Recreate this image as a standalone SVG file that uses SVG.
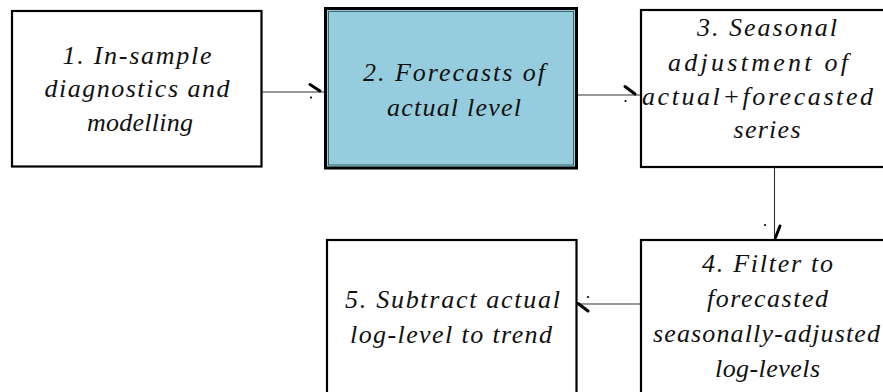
<svg xmlns="http://www.w3.org/2000/svg" width="883" height="392" viewBox="0 0 883 392">
<style>
.box{fill:#ffffff;stroke:#000000;stroke-width:2.2}
.t{font-family:"Liberation Serif","Times New Roman",serif;font-style:italic;font-size:26px;fill:#111111;text-anchor:middle}
.ln{stroke:#333333;stroke-width:1.1;fill:none}
.hd{stroke:#000000;stroke-width:3;stroke-linecap:round}
.dt{fill:#000000}
</style>
<rect width="883" height="392" fill="#ffffff"/>
<g id="node1">
<rect class="box" x="12" y="11" width="249.5" height="155.5"/>
<text class="t" x="137" y="64" textLength="149" lengthAdjust="spacing">1. In-sample</text>
<text class="t" x="137" y="97" textLength="185" lengthAdjust="spacing">diagnostics and</text>
<text class="t" x="140" y="131" textLength="106" lengthAdjust="spacing">modelling</text>
</g>
<g id="node2">
<rect x="325.5" y="8.5" width="251" height="159.5" fill="#95cdde" stroke="#000000" stroke-width="3"/>
<rect x="328.5" y="11.5" width="245" height="153.5" fill="none" stroke="#3d5f68" stroke-width="1"/>
<text class="t" x="454" y="81" textLength="182" lengthAdjust="spacing">2. Forecasts of</text>
<text class="t" x="454" y="116" textLength="134" lengthAdjust="spacing">actual level</text>
</g>
<g id="node3">
<rect class="box" x="641" y="10" width="260" height="157"/>
<text class="t" x="767" y="36" textLength="140" lengthAdjust="spacing">3. Seasonal</text>
<text class="t" x="758" y="71" textLength="180" lengthAdjust="spacing">adjustment of</text>
<text class="t" x="757.5" y="105" textLength="231" lengthAdjust="spacing">actual+forecasted</text>
<text class="t" x="767" y="138" textLength="67" lengthAdjust="spacing">series</text>
</g>
<g id="node4">
<rect class="box" x="641" y="240" width="260" height="170"/>
<text class="t" x="767.5" y="272" textLength="131" lengthAdjust="spacing">4. Filter to</text>
<text class="t" x="767.5" y="307" textLength="121" lengthAdjust="spacing">forecasted</text>
<text class="t" x="766.5" y="342" textLength="227" lengthAdjust="spacing">seasonally-adjusted</text>
<text class="t" x="767.5" y="377" textLength="105" lengthAdjust="spacing">log-levels</text>
</g>
<g id="node5">
<rect class="box" x="327" y="240" width="249.5" height="170"/>
<text class="t" x="452.5" y="308" textLength="215" lengthAdjust="spacing">5. Subtract actual</text>
<text class="t" x="451" y="343" textLength="202" lengthAdjust="spacing">log-level to trend</text>
</g>
<g id="connectors">
<line class="ln" x1="262" y1="92" x2="324" y2="92"/>
<line class="hd" x1="310" y1="84.5" x2="320" y2="91"/>
<circle class="dt" cx="311" cy="97.5" r="1.1"/>
<line class="ln" x1="578" y1="95" x2="640" y2="95"/>
<line class="hd" x1="625" y1="86.5" x2="635" y2="94"/>
<circle class="dt" cx="625.5" cy="101" r="1.1"/>
<line class="ln" x1="774.5" y1="167" x2="774.5" y2="239"/>
<line class="hd" x1="780" y1="226" x2="775.5" y2="237.5"/>
<circle class="dt" cx="765" cy="225" r="1.1"/>
<line class="ln" x1="640" y1="304" x2="578" y2="304"/>
<line class="hd" x1="578" y1="303.5" x2="588" y2="311"/>
<circle class="dt" cx="588" cy="297" r="1.1"/>
</g>
</svg>
